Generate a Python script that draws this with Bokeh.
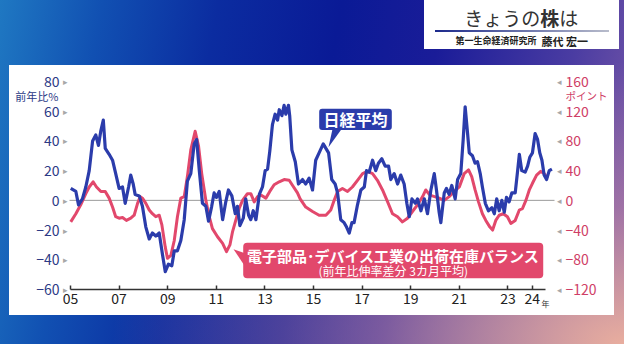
from bokeh.plotting import figure
from bokeh.models import (Range1d, LinearAxis, FixedTicker, CustomJSTickFormatter,
                          Label, BoxAnnotation, PolyAnnotation)
from bokeh.embed import file_html
from bokeh.resources import INLINE

# ---------------- data ----------------
nikkei_t = [2005.01, 2005.22, 2005.33, 2005.49, 2005.63, 2005.77, 2005.91,
            2006.04, 2006.15, 2006.25, 2006.35, 2006.43, 2006.59, 2006.73, 2006.86,
            2007.00, 2007.14, 2007.25, 2007.39, 2007.48, 2007.58, 2007.66, 2007.83, 2007.96,
            2008.10, 2008.24, 2008.37, 2008.51, 2008.65, 2008.79, 2008.90,
            2009.03, 2009.17, 2009.27, 2009.40, 2009.54, 2009.68, 2009.81, 2009.95,
            2010.09, 2010.19, 2010.30, 2010.43, 2010.57, 2010.68, 2010.81, 2010.91,
            2011.01, 2011.12, 2011.26, 2011.39, 2011.50, 2011.64, 2011.78, 2011.87, 2011.97,
            2012.11, 2012.21, 2012.33, 2012.42, 2012.52, 2012.63, 2012.77, 2012.90,
            2013.01, 2013.11, 2013.20, 2013.31, 2013.42, 2013.52, 2013.59, 2013.70, 2013.79, 2013.86, 2013.97,
            2014.02, 2014.11, 2014.25, 2014.38, 2014.55, 2014.68, 2014.82, 2014.96,
            2015.09, 2015.23, 2015.40, 2015.51, 2015.62, 2015.75, 2015.89, 2015.99,
            2016.12, 2016.26, 2016.36, 2016.47, 2016.58, 2016.67, 2016.81, 2016.95,
            2017.09, 2017.18, 2017.29, 2017.43, 2017.56, 2017.67, 2017.81, 2017.95,
            2018.09, 2018.18, 2018.32, 2018.46, 2018.59, 2018.73, 2018.84, 2018.94,
            2019.05, 2019.19, 2019.28, 2019.42, 2019.56, 2019.69, 2019.83, 2019.97,
            2020.06, 2020.17, 2020.24, 2020.38, 2020.47, 2020.58, 2020.69, 2020.83, 2020.93,
            2021.06, 2021.16, 2021.24, 2021.34, 2021.41, 2021.54, 2021.65, 2021.75, 2021.86, 2021.95,
            2022.07, 2022.20, 2022.34, 2022.44, 2022.54, 2022.64, 2022.75, 2022.85, 2022.94,
            2023.05, 2023.16, 2023.30, 2023.40, 2023.47, 2023.57, 2023.71, 2023.81, 2023.90,
            2024.01, 2024.12, 2024.22, 2024.31, 2024.40, 2024.49, 2024.59, 2024.70, 2024.81]
nikkei_v = [8, 6, -3, 1, 9, 20, 40,
            44, 37, 47, 54, 35, 31, 27, 18,
            8, 9, -2, 9, 17, 11, 4, 3, -4,
            -18, -26, -22, -24, -22, -37, -48,
            -43, -44, -34, -34, -27, -13, 13, 18,
            38, 41, 20, -2, -4, -14, -4, 5,
            2, 6, -13, -1, 7, 3, -9, -4, -17,
            -12, 1, -10, -13, -7, -13, 4, 9,
            20, 21, 33, 51, 58, 54, 61, 57, 64, 58, 64,
            57, 34, 26, 11, 14, 11, 15, 7,
            27, 32, 38, 35, 32, 14, 11, 5,
            -13, -15, -18, -22, -15, -15, -3, 7,
            9, 20, 19, 27, 20, 25, 28, 23,
            23, 14, 18, 11, 17, 11, -2, -11,
            1, -2, 1, -7, 1, -9, 7, 18,
            7, -8, -15, 5, 8, 4, 10, 1, 14,
            18, 41, 63, 45, 32, 30, 25, 26, 18, 9,
            -2, -7, -5, -9, 1, -7, 0, -8, 2,
            -1, 5, 5, 20, 31, 20, 19, 23, 29,
            32, 45, 41, 32, 27, 17, 14, 20, 21]

elec_t = [2005.01, 2005.22, 2005.42, 2005.63, 2005.77, 2005.93,
          2006.07, 2006.25, 2006.43, 2006.59, 2006.73, 2006.86,
          2007.00, 2007.14, 2007.30, 2007.48, 2007.62, 2007.76, 2007.87, 2007.96,
          2008.10, 2008.24, 2008.37, 2008.51, 2008.65, 2008.76, 2008.90, 2008.99,
          2009.13, 2009.27, 2009.40, 2009.54, 2009.68, 2009.81, 2009.95,
          2010.13, 2010.27, 2010.40, 2010.57, 2010.71, 2010.84,
          2011.05, 2011.26, 2011.42, 2011.56, 2011.67, 2011.80, 2011.94,
          2012.08, 2012.28, 2012.42, 2012.56, 2012.70, 2012.85,
          2013.04, 2013.20, 2013.38, 2013.59, 2013.79,
          2014.00, 2014.14, 2014.34, 2014.45, 2014.68, 2014.96,
          2015.23, 2015.51, 2015.71, 2015.85, 2015.99,
          2016.19, 2016.40, 2016.60, 2016.81,
          2017.02, 2017.22, 2017.43, 2017.63, 2017.84,
          2018.05, 2018.25, 2018.46, 2018.66, 2018.87,
          2019.07, 2019.28, 2019.49, 2019.62, 2019.79, 2019.98,
          2020.17, 2020.38, 2020.58, 2020.79,
          2021.00, 2021.20, 2021.38, 2021.51, 2021.65, 2021.79, 2021.95,
          2022.09, 2022.26, 2022.37, 2022.50, 2022.64, 2022.81, 2022.98,
          2023.12, 2023.30, 2023.47, 2023.60, 2023.74, 2023.88,
          2024.01, 2024.18, 2024.35, 2024.49, 2024.63]
elec_v = [-29, -18, -6, 9, 18, 25,
          18, 12, 12, 3, -9, -22,
          -24, -23, -27, -24, -20, -4, 5, 3,
          -4, -13, -18, -22, -20, -33, -63, -78,
          -74, -54, -22, 3, 5, 32, 68,
          93, 73, 36, 0, -22, -38,
          -49, -58, -69, -60, -42, -27, -11,
          0, 9, 9, -2, 5, 7,
          3, 12, 21, 25, 28,
          27, 20, 10, 2, -9, -15,
          -20, -20, -13, 0, 12,
          16, 12, 18, 27,
          36, 39, 36, 27, 14,
          -2, -18, -22, -29, -24,
          -15, -6, 5, 14, 7, 5,
          3, 0, 5, 12,
          18, 36, 41, 32, 14, -2, -18,
          -27, -36, -40, -27, -20, -18, -22,
          -31, -27, -13, -11, 0, 14,
          23, 34, 39, 36, 30]

x_ticks = [2005, 2007, 2009, 2011, 2013, 2015, 2017, 2019, 2021, 2023, 2024]
left_ticks = [-60, -40, -20, 0, 20, 40, 60, 80]
right_ticks = [-120, -80, -40, 0, 40, 80, 120, 160]

title_main = ["きょうの", "株", "は"]
title_sub = ["第一生命経済研究所", "藤代 宏一"]
nikkei_name = "日経平均"
elec_name = "電子部品･デバイス工業の出荷在庫バランス"
elec_note = "(前年比伸率差分 3カ月平均)"
left_unit = "前年比%"
right_unit = "ポイント"
year_unit = "年"

# ---------------- layout / styling ----------------
FONT = "Noto Sans CJK JP"
BLUE = "#2b3cab"
RED = "#e2486c"
NAVY = "#2c3a86"
PINK = "#cf3e66"

W, H = 624, 344
BL, BR, BT, BB = 69, 70, 81, 55          # where the plotting area sits on the canvas
X0, X1 = 2004.9588, 2024.917             # x data at the plotting area's edges
Y0, Y1 = -60, 80                         # left-axis data at the plotting area's edges
PX_X = (W - BL - BR) / (X1 - X0)
PX_Y = (H - BT - BB) / (Y1 - Y0)
XL, XR = X0 - BL / PX_X, X1 + BR / PX_X  # whole canvas in data units
YB, YT = Y0 - BB / PX_Y, Y1 + BT / PX_Y
K = 2                                     # right axis = 2 x left axis


def dx(px):   # canvas px -> x data
    return XL + px / PX_X


def dy(py):   # canvas px (from top) -> y data
    return YT - py / PX_Y


p = figure(width=W, height=H, output_backend="svg", toolbar_location=None,
           x_range=Range1d(XL, XR), y_range=Range1d(YB, YT),
           x_axis_location=None, y_axis_location=None,
           min_border=0)
p.title.visible = False
p.extra_y_ranges = {"pt": Range1d(YB * K, YT * K)}
p.outline_line_color = None
p.grid.grid_line_color = None
p.background_fill_color = None
p.border_fill_color = None

bg = ("linear-gradient(90deg,#1c2a8c,#b8bccb) 435px 30px / 174px 2px no-repeat, "
      "linear-gradient(#fff,#fff) 424px 0px / 195px 49px no-repeat, "
      "linear-gradient(#fff,#fff) 9px 65px / 605px 250px no-repeat, "
      "radial-gradient(ellipse at 100% 100%, rgba(238,178,158,0.95) 0%, rgba(200,140,165,0.55) 28%, rgba(120,90,170,0) 58%), "
      "linear-gradient(100deg, #1f78c2 0%, #1150b2 15%, #0b2ca0 32%, #0a1a96 50%, #1a1c98 65%, #4a3ca2 85%, #7a5aa8 100%)")
p.styles = {"background": bg}


def side_axis(ticks, code, color, size, standoff, loc, range_name="default"):
    ax = LinearAxis(ticker=FixedTicker(ticks=ticks),
                    formatter=CustomJSTickFormatter(code=code),
                    y_range_name=range_name, fixed_location=loc)
    ax.axis_line_color = None
    ax.major_tick_line_color = None
    ax.minor_tick_line_color = None
    ax.major_tick_out = 0
    ax.major_tick_in = 0
    ax.major_label_standoff = standoff
    ax.major_label_text_font = FONT
    ax.major_label_text_font_size = size
    ax.major_label_text_color = color
    return ax


num_code = "return tick < 0 ? '\u2212' + Math.abs(tick) : String(tick);"
p.add_layout(side_axis(left_ticks, "return '\u25B8';", "#a8a8a8", "9px", 2, X0), "left")
p.add_layout(side_axis(left_ticks, num_code, NAVY, "14px", 10, X0), "left")
p.add_layout(side_axis(left_ticks, "return '\u25C2';", "#a8a8a8", "9px", 2, X1), "right")
p.add_layout(side_axis(right_ticks, num_code, PINK, "14px", 11, X1, "pt"), "right")

xax = LinearAxis(ticker=FixedTicker(ticks=x_ticks), fixed_location=Y0, bounds=(2005.0, 2024.55),
                 formatter=CustomJSTickFormatter(code="return String(Math.round(tick) % 100).padStart(2, '0');"))
xax.axis_line_color = "#333333"
xax.axis_line_width = 1.5
xax.major_tick_line_color = "#333333"
xax.major_tick_line_width = 1.5
xax.major_tick_in = 4
xax.major_tick_out = 0
xax.minor_tick_line_color = None
xax.major_label_standoff = 3
xax.major_label_text_font = FONT
xax.major_label_text_font_size = "14px"
xax.major_label_text_color = "#222222"
p.add_layout(xax, "below")

# zero line across the plotting area
p.segment(x0=[X0], y0=[0], x1=[X1], y1=[0], line_color="#9a9a9a", line_width=1)

p.line(elec_t, elec_v, y_range_name="pt", line_color=RED, line_width=3, line_join="round")
p.line(nikkei_t, nikkei_v, line_color=BLUE, line_width=3.2, line_join="round")

# --- callout: 日経平均 ---
p.add_layout(PolyAnnotation(xs=[2015.617, 2015.78, 2016.15], ys=[35.8, 47.8, 47.8],
                            fill_color=BLUE, fill_alpha=1, line_color=None))
p.add_layout(BoxAnnotation(left=2015.234, right=2018.222, bottom=47.4, top=61.6,
                           fill_color=BLUE, fill_alpha=1, line_color=None, border_radius=3))
p.add_layout(Label(x=2016.73, y=54.6, text=nikkei_name, text_align="center", text_baseline="middle",
                   text_color="white", text_font=FONT, text_font_size="16px", text_font_style="bold"))

# --- callout: 電子部品・デバイス ---
p.add_layout(PolyAnnotation(xs=[2011.708, 2012.15, 2012.15], ys=[-32.9, -35.5, -43.6],
                            fill_color=RED, fill_alpha=1, line_color=None))
p.add_layout(BoxAnnotation(left=2012.107, right=2024.453, bottom=-52.4, top=-28.6,
                           fill_color=RED, fill_alpha=1, line_color=None, border_radius=4))
p.add_layout(Label(x=2018.28, y=-37.2, text=elec_name, text_align="center", text_baseline="middle",
                   text_color="white", text_font=FONT, text_font_size="15px", text_font_style="bold"))
p.add_layout(Label(x=2018.28, y=-47.2, text=elec_note, text_align="center", text_baseline="middle",
                   text_color="white", text_font=FONT, text_font_size="12px"))


def outer_label(px, py, text, align, color, size, style="normal"):
    p.add_layout(Label(x=dx(px), y=dy(py), text=text, text_align=align, text_baseline="middle",
                       text_color=color, text_font=FONT, text_font_size=size, text_font_style=style))


# --- unit labels ---
outer_label(58, 95, left_unit, "right", NAVY, "11px")
outer_label(565, 95, right_unit, "left", PINK, "10.5px")
outer_label(541, 303, year_unit, "left", "#333333", "8px")

# --- title box texts ---
for txt, px, style in zip(title_main, [463.7, 539.7, 558.7], ["normal", "bold", "normal"]):
    outer_label(px, 17, txt, "left", "#333333", "19px", style)
outer_label(455, 40, title_sub[0], "left", "#222222", "9px", "bold")
outer_label(541, 40, title_sub[1], "left", "#222222", "11px", "bold")

open("out.html", "w").write(file_html(p, INLINE))
